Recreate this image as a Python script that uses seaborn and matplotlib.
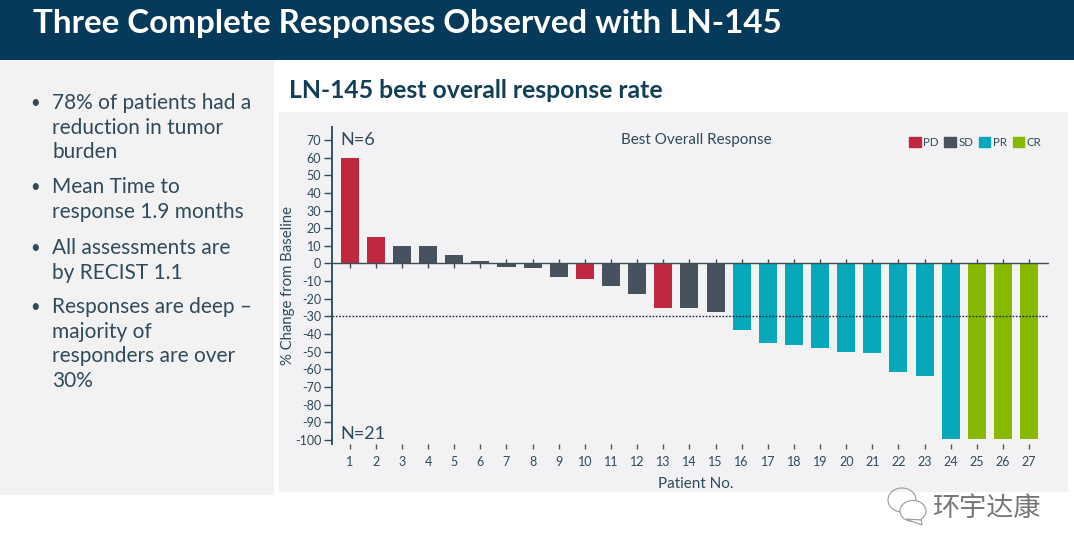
"""LN-145 best overall response: waterfall slide."""
import matplotlib
matplotlib.use("Agg")
import matplotlib.pyplot as plt
from matplotlib.patches import Ellipse, Patch, Polygon, Rectangle
import pandas as pd
import seaborn as sns

sns.set_theme(style="white")
plt.rcParams["font.family"] = ["Lato", "DejaVu Sans"]

# data
patients = [str(i) for i in range(1, 28)]
change = [60, 15, 10, 10, 5, 1.2, -2, -2.5, -7.5, -9, -13, -17.5, -25, -25, -27.5,
          -37.5, -45, -46, -48, -50, -51, -61.5, -64, -99.5, -99.5, -99.5, -99.5]
response = ["PD", "PD", "SD", "SD", "SD", "SD", "SD", "SD", "SD", "PD", "SD", "SD", "PD", "SD", "SD",
            "PR", "PR", "PR", "PR", "PR", "PR", "PR", "PR", "PR", "CR", "CR", "CR"]
y_ticks = [70, 60, 50, 40, 30, 20, 10, 0, -10, -20, -30, -40, -50, -60, -70, -80, -90, -100]
palette = {"PD": "#c0283f", "SD": "#47525e", "PR": "#08a8bc", "CR": "#86b900"}
bullets = [
    (103, ["78% of patients had a", "reduction in tumor", "burden"]),
    (187, ["Mean Time to", "response 1.9 months"]),
    (248, ["All assessments are", "by RECIST 1.1"]),
    (307, ["Responses are deep \u2013", "majority of", "responders are over", "30%"]),
]

NAVY = "#053a5b"
INK = "#2f4a5a"
W, H = 1074, 542

fig = plt.figure(figsize=(W / 100, H / 100), dpi=100, facecolor="white")

# slide background, drawn in pixel coordinates
bg = fig.add_axes([0, 0, 1, 1])
bg.set_xlim(0, W); bg.set_ylim(H, 0); bg.axis("off")
bg.add_patch(Rectangle((0, 0), W, 60, color=NAVY, lw=0))
bg.add_patch(Rectangle((0, 60), 274, 435, color="#f2f2f3", lw=0))
bg.add_patch(Rectangle((279, 112), 789, 380, color="#f2f2f4", lw=0))
bg.text(33, 24, "Three Complete Responses Observed with LN-145", color="white",
        fontsize=23.9, fontweight="bold", va="center")
bg.text(289, 90, "LN-145 best overall response rate", color="#123f58",
        fontsize=17.8, fontweight="bold", va="center")
for y0, lines in bullets:
    bg.text(35, y0, "\u2022", color=INK, fontsize=12, va="center", ha="center")
    for i, line in enumerate(lines):
        bg.text(52, y0 + i * 24.7, line, color=INK, fontsize=15, va="center")

# watermark
bg.add_patch(Ellipse((902, 500), 28, 24, fill=False, ec="#9a9a9a", lw=0.8))
bg.add_patch(Ellipse((913, 511), 26, 21, fc="white", ec="#9a9a9a", lw=0.8))
bg.add_patch(Polygon([[906, 519], [921, 520], [922, 525]], fc="white", ec="#9a9a9a", lw=0.8))
bg.text(986, 508, "环宇达康", family=["Noto Sans CJK SC", "DejaVu Sans"], color="#777777",
        fontsize=19.5, fontweight="light", ha="center", va="center")

# waterfall
left, right, top, bottom = 331.7, 1049, 127, 444
ax = fig.add_axes([left / W, 1 - bottom / H, (right - left) / W, (bottom - top) / H])
ax.patch.set_alpha(0)
df = pd.DataFrame({"patient": patients, "change": change, "response": response})
sns.barplot(data=df, x="patient", y="change", hue="response", palette=palette,
            hue_order=list(palette), dodge=False, width=0.69, saturation=1, linewidth=0,
            legend=False, ax=ax)
ax.set_xlim(-0.689, 26.76)
ax.set_ylim(-102.4, 77.4)

sns.despine(ax=ax, top=True, right=True, bottom=True)
ax.spines["left"].set_color("#2d5766")
ax.spines["left"].set_linewidth(1.4)
ax.axhline(0, color="#3f4d55", lw=1, zorder=3)
ax.axhline(-30, color="#1c2b33", lw=1, ls=(0, (1.2, 1.2)), zorder=4)

# short ticks on the zero line, on the side away from the bar
ax.vlines(range(len(change)), 0, [-2.5 if v > 0 else 2.5 for v in change],
          color="#3f4d55", lw=1, zorder=3)

ax.set_yticks(y_ticks)
ax.set_yticklabels([str(v) for v in y_ticks])
ax.tick_params(axis="y", left=True, length=6, width=1, color=INK, labelsize=9,
               labelcolor=INK, pad=1.5)
ax.tick_params(axis="x", bottom=True, length=3.5, width=1, color="#555555", labelsize=9,
               labelcolor=INK, pad=5.5)
ax.set_xlabel("Patient No.", color=INK, fontsize=11, labelpad=6, x=0.5075)
ax.set_ylabel("% Change from Baseline", color=INK, fontsize=10.7, labelpad=0)

ax.text(0.0116, 0.959, "N=6", transform=ax.transAxes, color=INK, fontsize=13, va="center")
ax.text(0.0116, 0.03, "N=21", transform=ax.transAxes, color=INK, fontsize=13, va="center")
ax.text(0.508, 0.959, "Best Overall Response", transform=ax.transAxes, color=INK,
        fontsize=11, ha="center", va="center")

handles = [Patch(color=c, label=k) for k, c in palette.items()]
ax.legend(handles=handles, ncols=4, frameon=False, loc="upper right",
          bbox_to_anchor=(0.989, 0.968), fontsize=8.3, labelcolor=INK, handlelength=1,
          handleheight=1, handletextpad=0.2, columnspacing=0.5, borderpad=0, borderaxespad=0)

fig.savefig("out.png", dpi=100)
plt.close(fig)
